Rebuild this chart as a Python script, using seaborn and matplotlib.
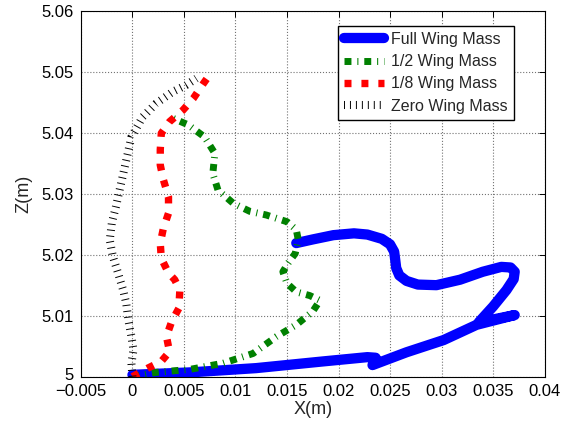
import pandas as pd
import matplotlib

matplotlib.use('Agg')
import matplotlib.pyplot as plt
import matplotlib.transforms as mtransforms
import seaborn as sns

# trajectories (X in m, Z in m)
full_x = [0.0, 0.0056, 0.0120, 0.0185, 0.0228, 0.0236, 0.0233, 0.0266, 0.0302,
          0.0334, 0.0371, 0.0336, 0.0350, 0.0363, 0.0370, 0.0371, 0.0367, 0.0358,
          0.0340, 0.0318, 0.0295, 0.0277, 0.0266, 0.0259, 0.0256, 0.0255, 0.0254,
          0.0250, 0.0242, 0.0228, 0.0215, 0.0195, 0.0175, 0.0159]
full_z = [5.0003, 5.0007, 5.0014, 5.0025, 5.0032, 5.0031, 5.0019, 5.0040, 5.0060,
          5.0085, 5.0101, 5.0089, 5.0115, 5.0142, 5.0160, 5.0172, 5.0179, 5.0180,
          5.0172, 5.0159, 5.0150, 5.0151, 5.0157, 5.0166, 5.0178, 5.0192, 5.0205,
          5.0217, 5.0226, 5.0233, 5.0235, 5.0232, 5.0225, 5.0219]

half_x = [0.0, 0.0023, 0.0056, 0.0088, 0.0117, 0.0140, 0.0159, 0.0175, 0.0182,
          0.0172, 0.0159, 0.0150, 0.0146, 0.0151, 0.0158, 0.0161, 0.0159, 0.0150,
          0.0130, 0.0114, 0.0098, 0.0083, 0.0078, 0.0080, 0.0070, 0.0054, 0.0036]
half_z = [5.0, 5.0007, 5.0012, 5.0022, 5.0038, 5.0066, 5.0085, 5.0107, 5.0125,
          5.0133, 5.0139, 5.0153, 5.0172, 5.0186, 5.0202, 5.0224, 5.0241, 5.0254,
          5.0265, 5.0271, 5.0284, 5.0306, 5.0333, 5.0366, 5.0393, 5.0413, 5.0426]

eighth_x = [0.0, 0.0015, 0.0028, 0.0036, 0.0033, 0.0038, 0.0045, 0.0046, 0.0041,
            0.0035, 0.0028, 0.0027, 0.0030, 0.0035, 0.0035, 0.0030, 0.0027, 0.0027,
            0.0028, 0.0036, 0.0049, 0.0059, 0.0069, 0.0077]
eighth_z = [5.0, 5.0014, 5.0025, 5.0041, 5.0066, 5.0090, 5.0112, 5.0142, 5.0159,
            5.0170, 5.0194, 5.0219, 5.0243, 5.0268, 5.0295, 5.0323, 5.0347, 5.0372,
            5.0399, 5.0418, 5.0437, 5.0456, 5.0481, 5.0500]

zero_x = [0.0, -0.0001, 0.0001, -0.0001, -0.0004, -0.0006, -0.0009, -0.0014, -0.0019,
          -0.0022, -0.0020, -0.0016, -0.0011, -0.0006, -0.0001, 0.0010, 0.0023,
          0.0039, 0.0052, 0.0062]
zero_z = [5.0, 5.0022, 5.0044, 5.0066, 5.0093, 5.0120, 5.0142, 5.0170, 5.0197,
          5.0224, 5.0252, 5.0279, 5.0317, 5.0355, 5.0393, 5.0426, 5.0448, 5.0467,
          5.0478, 5.0489]

labels = ['Full Wing Mass', '1/2 Wing Mass', '1/8 Wing Mass', 'Zero Wing Mass']
x_ticks = [-0.005, 0, 0.005, 0.01, 0.015, 0.02, 0.025, 0.03, 0.035, 0.04]
z_ticks = [5, 5.01, 5.02, 5.03, 5.04, 5.05, 5.06]

sns.set_style('white')
plt.rcParams['font.family'] = ['Liberation Sans', 'DejaVu Sans']

fig = plt.figure(figsize=(5.62, 4.29), dpi=100)
ax = fig.add_axes([0.144, 0.122, 0.825, 0.853])

series = [
    (full_x, full_z, '#0000ff', 7.4, None),
    (half_x, half_z, '#008000', 5.0, (1.0, 0.85, 0.15, 0.85)),
    (eighth_x, eighth_z, '#ff0000', 5.3, (0.95, 1.35)),
    (zero_x, zero_z, 'black', 5.8, (0.12, 0.62)),
]
for (xs, zs, color, lw, dashes), label in zip(series, labels):
    df = pd.DataFrame({'X': xs, 'Z': zs})
    sns.lineplot(data=df, x='X', y='Z', sort=False, estimator=None,
                 color=color, linewidth=lw, label=label, ax=ax)
    line = ax.lines[-1]
    if dashes:
        line.set_dashes(dashes)
        line.set_dash_capstyle('butt')
    else:
        line.set_solid_capstyle('round')
        line.set_solid_joinstyle('round')

ax.set_xlim(-0.005, 0.04)
ax.set_ylim(5, 5.06)
ax.set_xticks(x_ticks)
ax.set_yticks(z_ticks)
ax.set_xticklabels([f'{t:g}'.replace('-', '\u2212') for t in x_ticks])
ax.set_yticklabels([f'{t:g}' for t in z_ticks])
ax.tick_params(direction='in', top=True, right=True, length=4, width=0.7,
               labelsize=12, colors='black', pad=5)
# lift the lowest y label a little so it clears the x labels
ax.get_yticklabels()[0].set_transform(
    ax.get_yticklabels()[0].get_transform()
    + mtransforms.ScaledTranslation(0, 3 / 100, fig.dpi_scale_trans))
ax.grid(True, linestyle=':', linewidth=0.8, color='0.45')
for s in ax.spines.values():
    s.set_color('black')
    s.set_linewidth(0.8)
ax.set_xlabel('X(m)', fontsize=13, labelpad=2)
ax.set_ylabel('Z(m)', fontsize=13, labelpad=7)

ax.legend(loc='upper right', bbox_to_anchor=(514.3 / 562, 1 - 25.7 / 429),
          bbox_transform=fig.transFigure, borderaxespad=0, fancybox=False,
          framealpha=1, edgecolor='black', fontsize=11.5, handlelength=2.5,
          labelspacing=0.45, borderpad=0.4, handletextpad=0.45)
ax.get_legend().get_frame().set_linewidth(1.0)

fig.savefig('out.png', dpi=100)
